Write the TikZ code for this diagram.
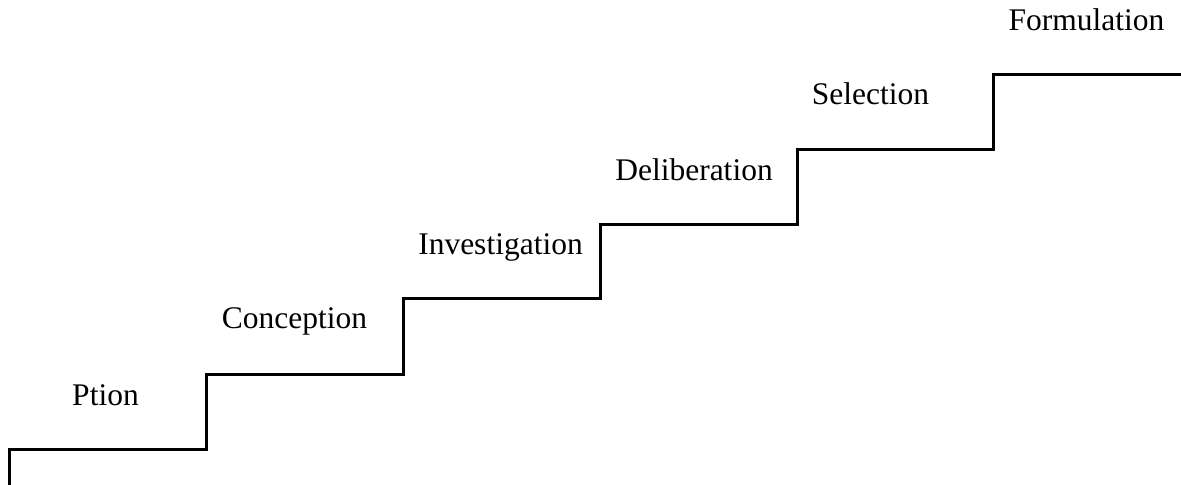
\documentclass[tikz,border=0pt]{standalone}
\usepackage{fontspec}
\setmainfont{Liberation Serif}
\begin{document}
\begin{tikzpicture}[x=0.5pt,y=-0.5pt,
  stair/.style={line width=1.5pt,line join=miter},
  lbl/.style={anchor=base,inner sep=0pt,font=\fontsize{15.75}{18}\selectfont}]
\useasboundingbox (0,0) rectangle (1181,484);
\draw[stair] (9,485) -- (9,449) -- (206,449) -- (206,374) -- (403,374) -- (403,298)
  -- (600,298) -- (600,224) -- (797,224) -- (797,149) -- (993,149) -- (993,74) -- (1182,74);
\node[lbl] (p1) at (105.5,405) {Ption};
\node[lbl] (p2) at (294.5,328) {Conception};
\node[lbl] (p3) at (500.5,254) {Investigation};
\node[lbl] (p4) at (694,180) {Deliberation};
\node[lbl] (p5) at (870.5,104) {Selection};
\node[lbl] (p6) at (1086.5,30) {Formulation};
\end{tikzpicture}
\end{document}
